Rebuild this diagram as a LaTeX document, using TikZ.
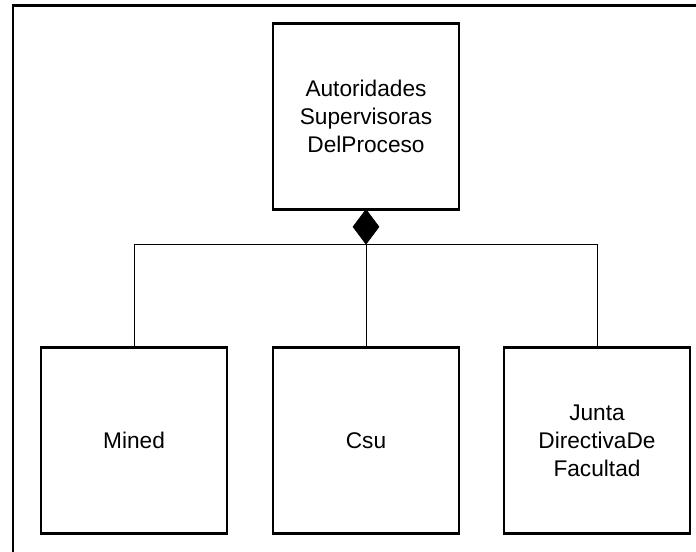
\documentclass[tikz,border=0pt]{standalone}
\usepackage{fontspec}
\setmainfont{Liberation Sans}
\usepackage{tikz}
\usetikzlibrary{positioning, shapes.geometric}
\tikzset{every node/.style={font=\fontsize{17}{21}\selectfont}}

\begin{document}
\begin{tikzpicture}[
    x = 0.75pt, y = -0.75pt,
    node distance = 103.5pt and 34.5pt,
    box/.style = {draw, line width=1.6pt, minimum size=139.5pt,
        inner sep = 0pt, outer sep = 0pt, align=center},
    agg/.style = {draw, fill=black, diamond, minimum width=19.5pt,
        minimum height=26pt, inner sep=0pt, outer sep=0pt, aspect=0.75},
    link/.style = {line width=0.75pt}
  ]
  \useasboundingbox (0,0) rectangle (696,552);
  \clip (0,0) rectangle (696,552);
  \draw[line width=1.6pt] (13.3,5.5) rectangle (720,580);

  \node[box] (ASP) at (366,116.5) {Autoridades\\Supervisoras\\DelProceso};
  \node[agg, anchor=north] (DIA) at (ASP.south) {};

  \node[box, below=of ASP] (CSU) {Csu};
  \node[box, left=of CSU] (MIN) {Mined};
  \node[box, right=33.75pt of CSU] (JDF) {Junta\\DirectivaDe\\Facultad};

  \draw[link] (DIA.south) -- (CSU.north);
  \draw[link] (MIN.north) |- (DIA.south) -| (JDF.north);
\end{tikzpicture}
\end{document}
